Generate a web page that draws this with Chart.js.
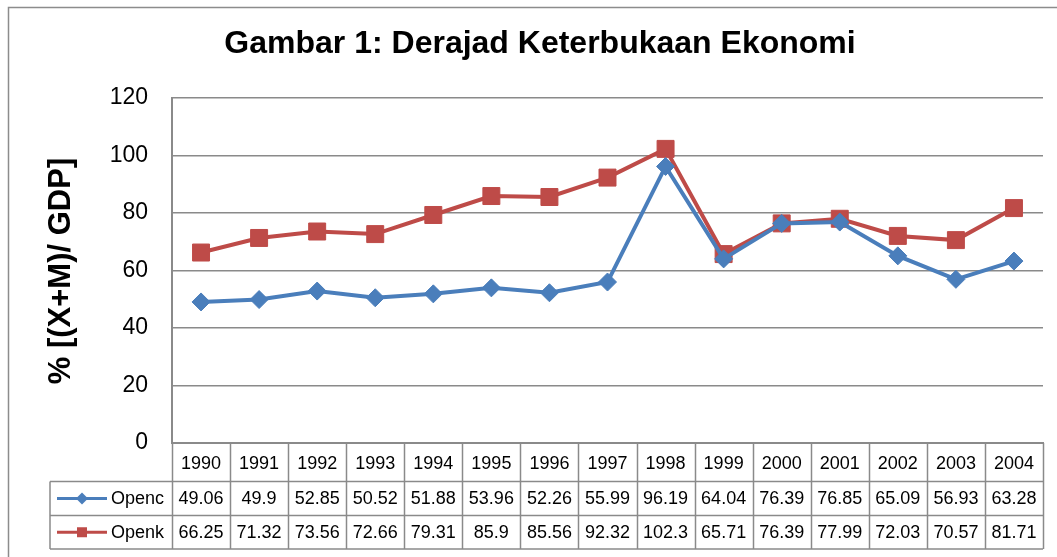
<!DOCTYPE html>
<html>
<head>
<meta charset="utf-8">
<title>Gambar 1: Derajad Keterbukaan Ekonomi</title>
<script src="https://cdn.jsdelivr.net/npm/chart.js@4/dist/chart.umd.min.js"></script>
<style>
  html, body { margin: 0; padding: 0; background: #ffffff; }
  #chart { display: block; }
</style>
</head>
<body>
<canvas id="chart" width="1057" height="557"></canvas>
<script>
// Data dari tabel gambar
const years = ["1990", "1991", "1992", "1993", "1994", "1995", "1996", "1997",
  "1998", "1999", "2000", "2001", "2002", "2003", "2004"];
const opencValues = [49.06, 49.9, 52.85, 50.52, 51.88, 53.96, 52.26, 55.99,
  96.19, 64.04, 76.39, 76.85, 65.09, 56.93, 63.28];
const openkValues = [66.25, 71.32, 73.56, 72.66, 79.31, 85.9, 85.56, 92.32,
  102.3, 65.71, 76.39, 77.99, 72.03, 70.57, 81.71];
const seriesNames = ["Openc", "Openk"];
const yTicks = [0, 20, 40, 60, 80, 100, 120];

const chartTitle = "Gambar 1: Derajad Keterbukaan Ekonomi";
const yTitle = "% [(X+M)/ GDP]";

const FONT = "'Liberation Sans', Arial, sans-serif";
const TABLE_SIZE = 18;
const BLUE = "#4A7EBB";
const RED = "#BE4B48";
const GRID = "#8a8a8a";

// Plugin: judul, judul sumbu Y, bingkai, dan tabel data di bawah grafik
const tablePlugin = {
  id: "dataTable",
  beforeDraw(chart) {
    const ctx = chart.ctx;
    ctx.save();
    ctx.fillStyle = "#ffffff";
    ctx.fillRect(0, 0, chart.width, chart.height);
    // bingkai luar
    ctx.strokeStyle = "#8c8c8c";
    ctx.lineWidth = 1.5;
    ctx.beginPath();
    ctx.moveTo(8.5, chart.height);
    ctx.lineTo(8.5, 7.5);
    ctx.lineTo(chart.width, 7.5);
    ctx.stroke();
    ctx.restore();
  },
  afterDraw(chart) {
    const ctx = chart.ctx;
    const area = chart.chartArea;
    const x = chart.scales.x;
    const n = years.length;
    const colW = (area.right - area.left) / n;

    ctx.save();
    // judul
    ctx.fillStyle = "#000000";
    ctx.font = "bold 32px " + FONT;
    ctx.textAlign = "center";
    ctx.textBaseline = "middle";
    ctx.fillText(chartTitle, 540, 44);

    // judul sumbu Y
    ctx.save();
    ctx.translate(61, 271);
    ctx.rotate(-Math.PI / 2);
    ctx.font = "bold 31px " + FONT;
    ctx.fillText(yTitle, 0, 0);
    ctx.restore();

    // garis tabel
    const rowTop = area.bottom;
    const row1 = 481.5;
    const row2 = 515.5;
    const row3 = 549;
    const legendLeft = 50;
    ctx.strokeStyle = GRID;
    ctx.lineWidth = 1.5;
    ctx.beginPath();
    for (let i = 0; i <= n; i++) {
      const lx = Math.round(area.left + colW * i) + 0.5;
      ctx.moveTo(lx, rowTop);
      ctx.lineTo(lx, row3);
    }
    ctx.moveTo(legendLeft, row1);
    ctx.lineTo(area.right, row1);
    ctx.moveTo(legendLeft, row2);
    ctx.lineTo(area.right, row2);
    ctx.moveTo(legendLeft, row3);
    ctx.lineTo(area.right, row3);
    ctx.moveTo(legendLeft, row1);
    ctx.lineTo(legendLeft, row3);
    ctx.stroke();

    // nilai-nilai
    ctx.font = TABLE_SIZE + "px " + FONT;
    ctx.fillStyle = "#000000";
    ctx.textAlign = "center";
    const rows = [opencValues, openkValues];
    const rowMid = [(row1 + row2) / 2, (row2 + row3) / 2];
    rows.forEach((vals, r) => {
      vals.forEach((v, i) => {
        ctx.fillText(String(v), x.getPixelForValue(i), rowMid[r] + 1);
      });
    });

    // legenda di kolom kiri
    const colors = [BLUE, RED];
    seriesNames.forEach((name, r) => {
      const cy = rowMid[r];
      ctx.strokeStyle = colors[r];
      ctx.lineWidth = 3;
      ctx.beginPath();
      ctx.moveTo(57, cy);
      ctx.lineTo(107, cy);
      ctx.stroke();
      ctx.fillStyle = colors[r];
      ctx.beginPath();
      if (r === 0) {
        ctx.moveTo(82, cy - 6);
        ctx.lineTo(88, cy);
        ctx.lineTo(82, cy + 6);
        ctx.lineTo(76, cy);
      } else {
        ctx.rect(77, cy - 5, 10, 10);
      }
      ctx.closePath();
      ctx.fill();
      ctx.fillStyle = "#000000";
      ctx.textAlign = "left";
      ctx.fillText(name, 111, cy + 1);
    });
    ctx.restore();
  }
};

new Chart(document.getElementById("chart"), {
  type: "line",
  data: {
    labels: years,
    datasets: [
      {
        label: seriesNames[0],
        data: opencValues,
        borderColor: BLUE,
        backgroundColor: BLUE,
        borderWidth: 4,
        pointStyle: "rectRot",
        pointRadius: 9,
        pointBorderWidth: 1,
        pointHoverRadius: 9,
        tension: 0
      },
      {
        label: seriesNames[1],
        data: openkValues,
        borderColor: RED,
        backgroundColor: RED,
        borderWidth: 4,
        pointStyle: "rect",
        pointRadius: 12,
        pointBorderWidth: 1,
        pointHoverRadius: 12,
        tension: 0
      }
    ]
  },
  options: {
    responsive: false,
    animation: false,
    events: [],
    layout: {
      padding: { top: 98, right: 14, bottom: 0, left: 0 }
    },
    plugins: {
      legend: { display: false },
      title: { display: false },
      tooltip: { enabled: false }
    },
    scales: {
      x: {
        offset: true,
        grid: { display: false, drawTicks: false },
        border: { display: true, color: GRID, width: 2 },
        ticks: {
          color: "#000000",
          padding: 10,
          maxRotation: 0,
          autoSkip: false,
          font: { family: FONT, size: TABLE_SIZE }
        },
        afterFit(scale) {
          scale.height = 114;
        }
      },
      y: {
        min: 0,
        max: 120,
        afterBuildTicks(scale) {
          scale.ticks = yTicks.map((v) => ({ value: v }));
        },
        grid: { color: GRID, lineWidth: 1.5, drawTicks: false },
        border: { display: true, color: GRID, width: 2 },
        ticks: {
          color: "#000000",
          padding: 24,
          font: { family: FONT, size: 23 }
        },
        afterFit(scale) {
          scale.width = 172;
        }
      }
    }
  },
  plugins: [tablePlugin]
});
</script>
</body>
</html>
